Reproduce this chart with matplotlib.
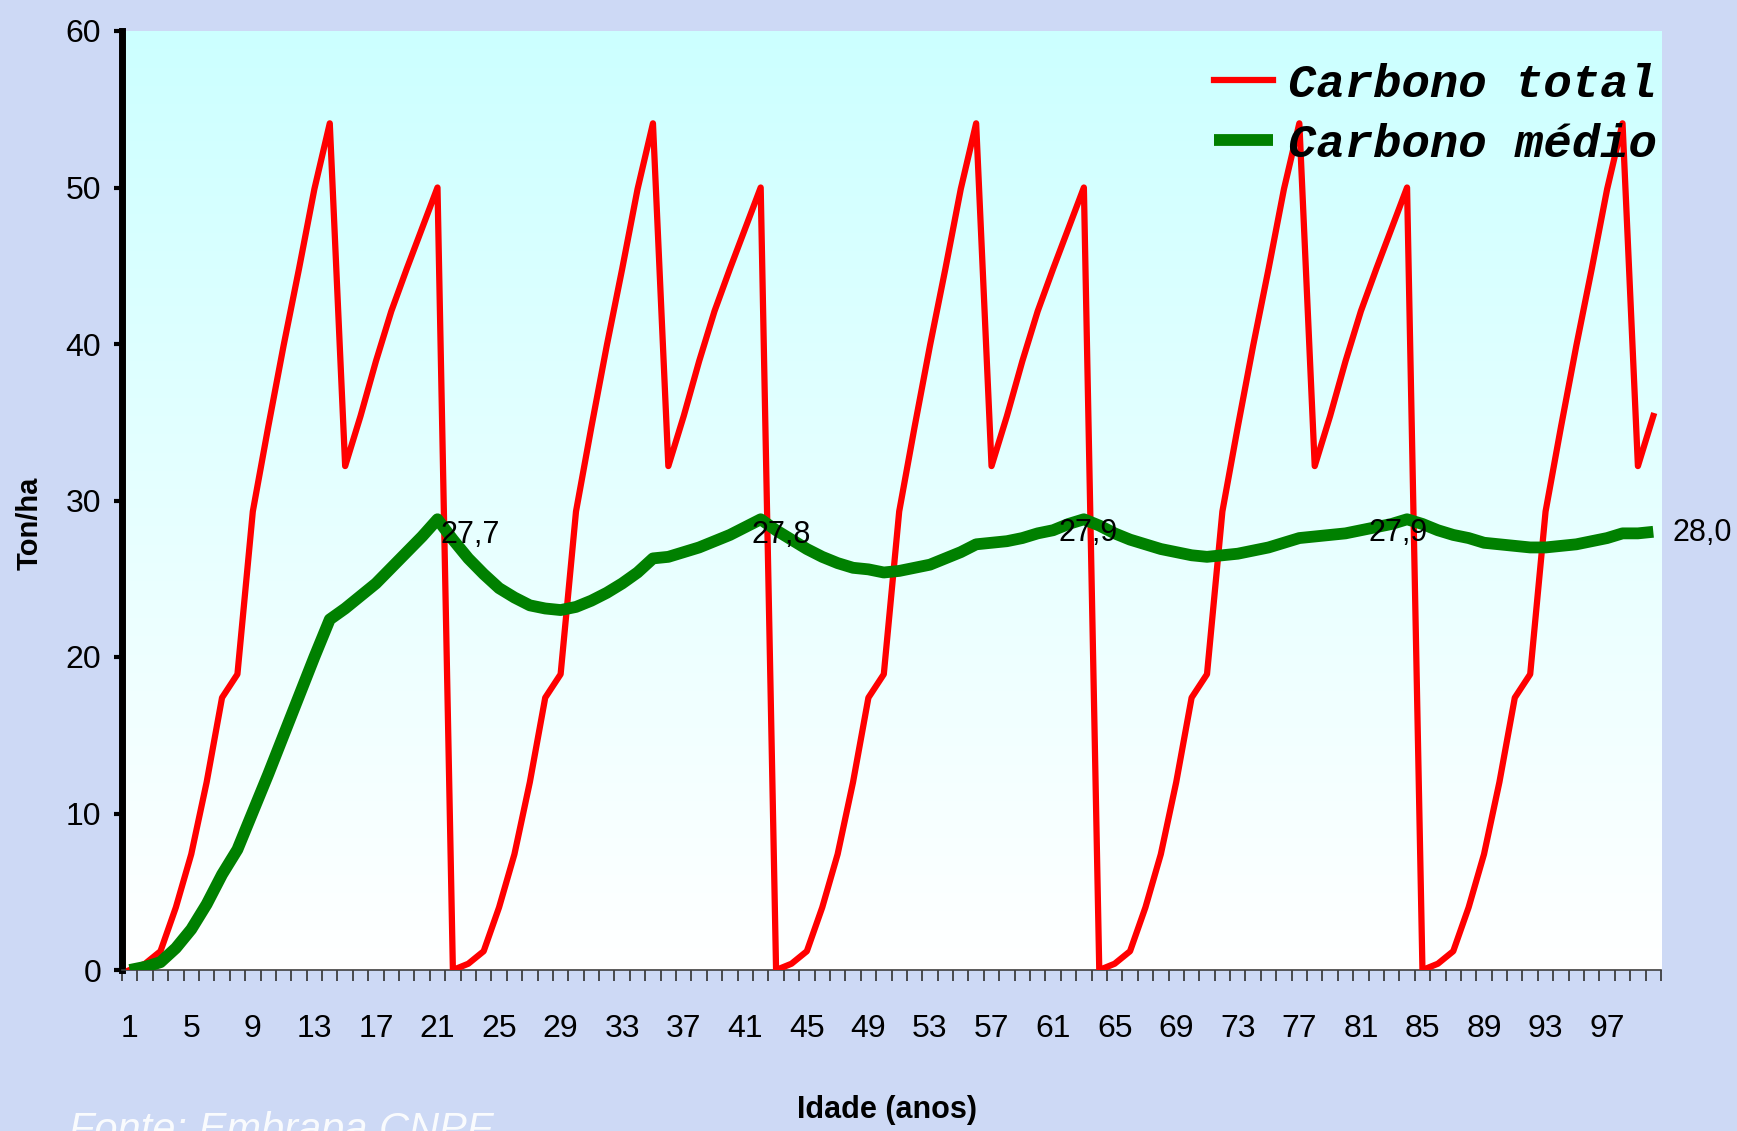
import matplotlib.pyplot as plt
import numpy as np
from matplotlib.colors import LinearSegmentedColormap

plt.rcParams['font.family'] = ['Liberation Sans', 'DejaVu Sans']

# dados
idade = np.arange(1, 101)

carbono_total = [
    0.0, 0.4, 1.2, 4.0, 7.4, 12.0, 17.4, 18.9, 29.3, 34.7, 39.9, 44.8, 49.9, 54.1, 32.2, 35.4, 38.9, 42.1, 44.8, 47.4, 50.0,
    0.0, 0.4, 1.2, 4.0, 7.4, 12.0, 17.4, 18.9, 29.3, 34.7, 39.9, 44.8, 49.9, 54.1, 32.2, 35.4, 38.9, 42.1, 44.8, 47.4, 50.0,
    0.0, 0.4, 1.2, 4.0, 7.4, 12.0, 17.4, 18.9, 29.3, 34.7, 39.9, 44.8, 49.9, 54.1, 32.2, 35.4, 38.9, 42.1, 44.8, 47.4, 50.0,
    0.0, 0.4, 1.2, 4.0, 7.4, 12.0, 17.4, 18.9, 29.3, 34.7, 39.9, 44.8, 49.9, 54.1, 32.2, 35.4, 38.9, 42.1, 44.8, 47.4, 50.0,
    0.0, 0.4, 1.2, 4.0, 7.4, 12.0, 17.4, 18.9, 29.3, 34.7, 39.9, 44.8, 49.9, 54.1, 32.2, 35.4,
]

carbono_medio = [
    0.0, 0.2, 0.5, 1.4, 2.6, 4.2, 6.1, 7.7, 10.1, 12.5, 15.0, 17.5, 20.0, 22.4, 23.1, 23.9, 24.7, 25.7, 26.7, 27.7, 28.8,
    27.5, 26.3, 25.3, 24.4, 23.8, 23.3, 23.1, 23.0, 23.2, 23.6, 24.1, 24.7, 25.4, 26.3, 26.4, 26.7, 27.0, 27.4, 27.8, 28.3, 28.8,
    28.1, 27.5, 26.9, 26.4, 26.0, 25.7, 25.6, 25.4, 25.5, 25.7, 25.9, 26.3, 26.7, 27.2, 27.3, 27.4, 27.6, 27.9, 28.1, 28.5, 28.8,
    28.4, 27.9, 27.5, 27.2, 26.9, 26.7, 26.5, 26.4, 26.5, 26.6, 26.8, 27.0, 27.3, 27.6, 27.7, 27.8, 27.9, 28.1, 28.3, 28.5, 28.8,
    28.5, 28.1, 27.8, 27.6, 27.3, 27.2, 27.1, 27.0, 27.0, 27.1, 27.2, 27.4, 27.6, 27.9, 27.9, 28.0,
]

rotulos = ['27,7', '27,8', '27,9', '27,9', '28,0']
rotulos_x = [23.15, 43.3, 63.25, 83.4, 103.2]
rotulos_y = [27.8, 27.8, 27.95, 27.95, 27.95]

rotulos_eixo_x = [str(i) for i in idade[::4]]

W, H = 1737, 1131
fig = plt.figure(figsize=(W / 100, H / 100), dpi=100, facecolor='#CDD9F5')
ax = fig.add_axes([122 / W, 1 - 970 / H, 1539 / W, 939 / H])

# fundo em degrade ciano -> branco
cmap = LinearSegmentedColormap.from_list('fundo', ['#FFFFFF', '#CCFFFF'])
grad = np.linspace(1, 0, 256).reshape(-1, 1)
ax.imshow(grad, cmap=cmap, extent=[0, 1, 0, 1], transform=ax.transAxes,
          aspect='auto', zorder=0)

ax.plot(idade, carbono_total, color='#FF0000', lw=4.5, label='Carbono total', zorder=3)
ax.plot(idade, carbono_medio, color='#008000', lw=8.5, label='Carbono médio',
        zorder=4, solid_capstyle='butt')

for txt, x, y in zip(rotulos, rotulos_x, rotulos_y):
    ax.text(x, y, txt, ha='center', va='center', fontsize=22, color='black',
            zorder=5, clip_on=False)

ax.set_xlim(0.5, 100.5)
ax.set_ylim(0, 60)

for s in ['top', 'right']:
    ax.spines[s].set_visible(False)
ax.spines['left'].set_linewidth(5)
ax.spines['left'].set_color('black')
ax.spines['bottom'].set_linewidth(1.2)
ax.spines['bottom'].set_color('#404040')

ax.set_yticks(range(0, 61, 10))
ax.tick_params(axis='y', direction='out', length=6, width=3, pad=9, labelsize=23)

ax.set_xticks(np.arange(0.5, 101, 1))
ax.set_xticklabels([])
ax.tick_params(axis='x', which='major', direction='out', length=8, width=1.2,
               color='#303030')
ax.set_xticks(idade[::4], minor=True)
ax.set_xticklabels(rotulos_eixo_x, minor=True)
ax.tick_params(axis='x', which='minor', length=0, pad=32, labelsize=23)

ax.set_xlabel('Idade (anos)', fontsize=22, fontweight='bold', va='center')
ax.xaxis.set_label_coords(0.497, -0.149)
ax.set_ylabel('Ton/ha', fontsize=21, fontweight='bold', va='center', ha='center')
ax.yaxis.set_label_coords(-0.06, 0.476)

ax.legend(loc='upper right', bbox_to_anchor=(0.997, 0.966), frameon=False,
          prop=dict(family='Liberation Mono', style='italic', weight='bold', size=34),
          handlelength=1.25, handletextpad=0.3, labelspacing=0.34,
          borderpad=0, borderaxespad=0)

fig.text(69 / W, 1 - 1142 / H, 'Fonte: Embrapa CNPF', fontsize=30, style='italic',
         color='white', alpha=0.9, family=['Liberation Sans', 'DejaVu Sans'],
         va='baseline', ha='left')

fig.savefig('out.png', dpi=100, facecolor=fig.get_facecolor())
